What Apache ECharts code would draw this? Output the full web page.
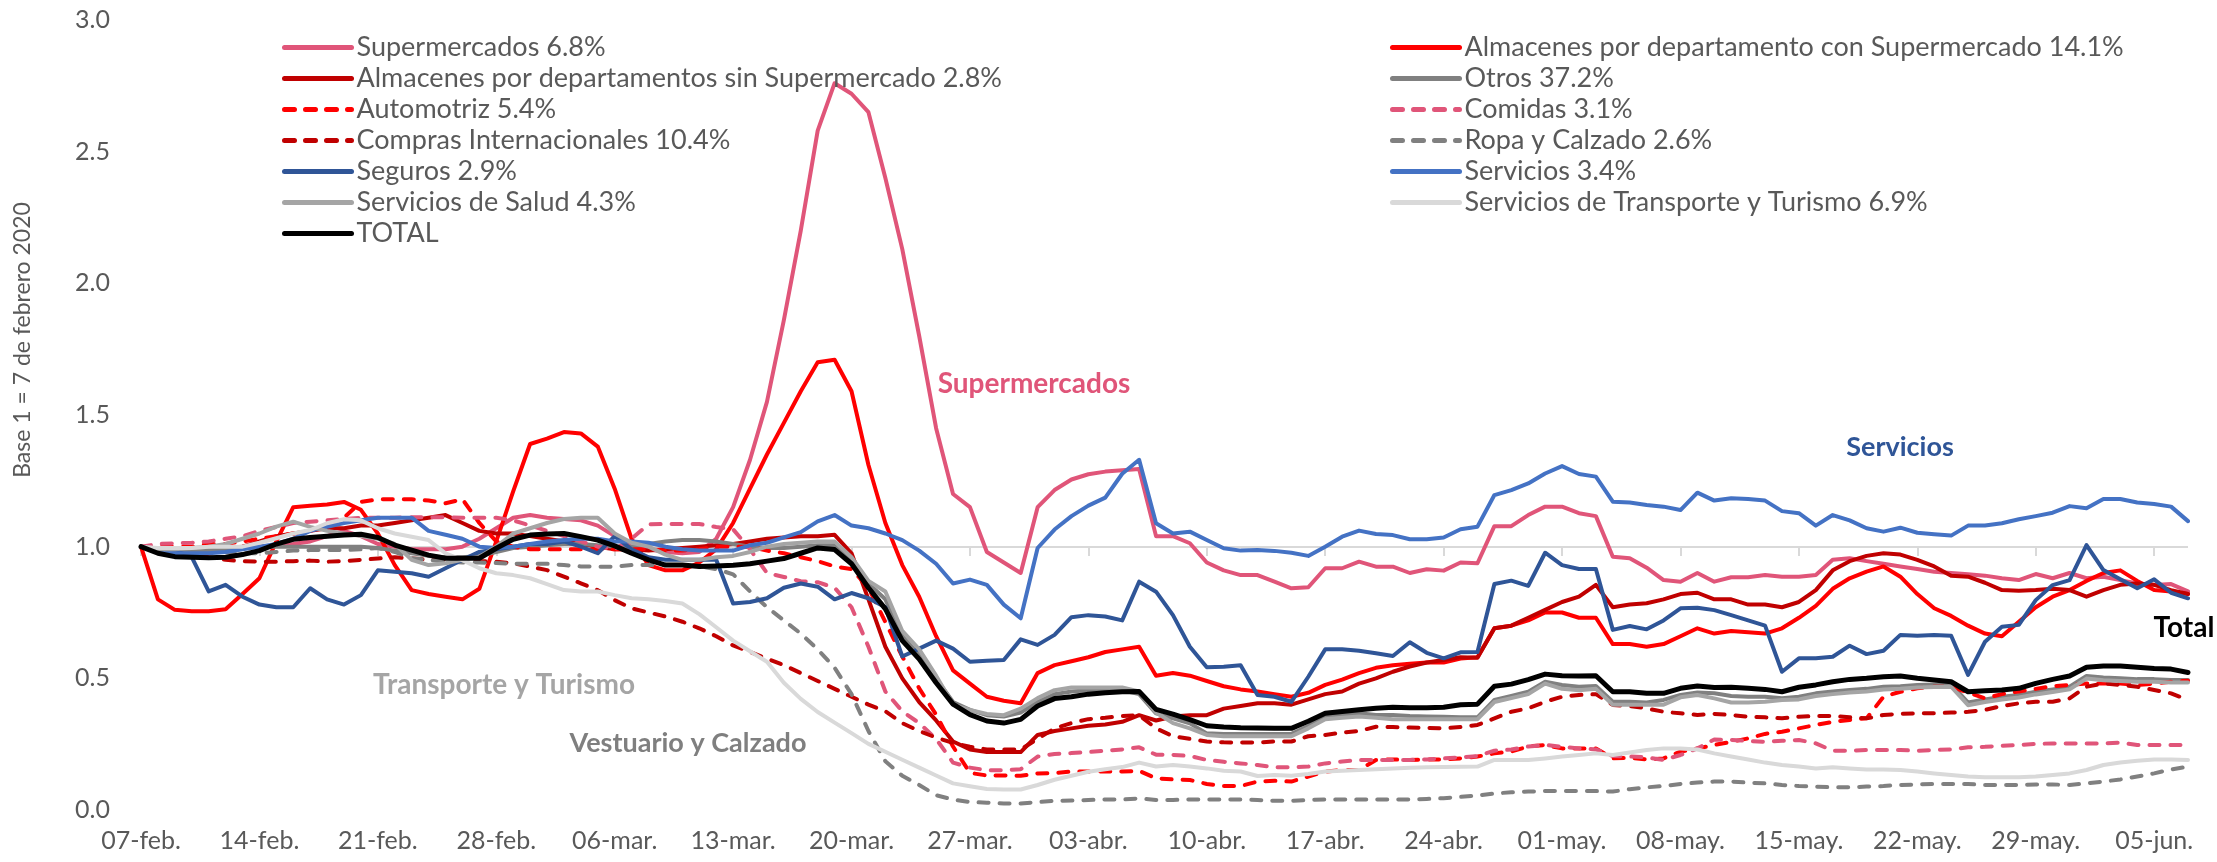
<!DOCTYPE html>
<html>
<head>
<meta charset="utf-8">
<script src="https://cdn.jsdelivr.net/npm/echarts@6/dist/echarts.min.js"></script>
<style>
  html, body { margin: 0; padding: 0; background: #fff; }
  #chart { width: 2217px; height: 862px; }
</style>
</head>
<body>
<div id="chart"></div>
<script>
// fechas diarias, 07-feb a 07-jun 2020
const fechas = [
  '07-feb.','08-feb.','09-feb.','10-feb.','11-feb.','12-feb.','13-feb.','14-feb.','15-feb.','16-feb.',
  '17-feb.','18-feb.','19-feb.','20-feb.','21-feb.','22-feb.','23-feb.','24-feb.','25-feb.','26-feb.',
  '27-feb.','28-feb.','29-feb.','01-mar.','02-mar.','03-mar.','04-mar.','05-mar.','06-mar.','07-mar.',
  '08-mar.','09-mar.','10-mar.','11-mar.','12-mar.','13-mar.','14-mar.','15-mar.','16-mar.','17-mar.',
  '18-mar.','19-mar.','20-mar.','21-mar.','22-mar.','23-mar.','24-mar.','25-mar.','26-mar.','27-mar.',
  '28-mar.','29-mar.','30-mar.','31-mar.','01-abr.','02-abr.','03-abr.','04-abr.','05-abr.','06-abr.',
  '07-abr.','08-abr.','09-abr.','10-abr.','11-abr.','12-abr.','13-abr.','14-abr.','15-abr.','16-abr.',
  '17-abr.','18-abr.','19-abr.','20-abr.','21-abr.','22-abr.','23-abr.','24-abr.','25-abr.','26-abr.',
  '27-abr.','28-abr.','29-abr.','30-abr.','01-may.','02-may.','03-may.','04-may.','05-may.','06-may.',
  '07-may.','08-may.','09-may.','10-may.','11-may.','12-may.','13-may.','14-may.','15-may.','16-may.',
  '17-may.','18-may.','19-may.','20-may.','21-may.','22-may.','23-may.','24-may.','25-may.','26-may.',
  '27-may.','28-may.','29-may.','30-may.','31-may.','01-jun.','02-jun.','03-jun.','04-jun.','05-jun.',
  '06-jun.','07-jun.'
];

const supermercados = [
  1.0, 0.985, 0.985, 0.985, 0.99, 0.995, 1.0, 1.0, 1.005, 1.01,
  1.02, 1.04, 1.06, 1.04, 1.01, 1.0, 0.99, 0.99, 0.99, 1.0,
  1.03, 1.07, 1.11, 1.12, 1.11, 1.105, 1.10, 1.08, 1.04, 1.0,
  0.99, 0.98, 0.975, 0.98, 1.03, 1.15, 1.33, 1.55, 1.86, 2.2,
  2.58, 2.76, 2.72, 2.65, 2.4, 2.13, 1.8, 1.45, 1.2, 1.15,
  0.98, 0.94, 0.9, 1.15, 1.215, 1.255, 1.275, 1.285, 1.29, 1.295,
  1.04, 1.04, 1.013, 0.94, 0.91, 0.892, 0.892, 0.867, 0.842, 0.846,
  0.918, 0.918, 0.943, 0.924, 0.924, 0.90, 0.914, 0.909, 0.94, 0.937,
  1.078, 1.078, 1.12, 1.152, 1.152, 1.127, 1.116, 0.962, 0.956, 0.92,
  0.873, 0.867, 0.90, 0.867, 0.884, 0.884, 0.892, 0.886, 0.886, 0.892,
  0.95, 0.956, 0.945, 0.935, 0.925, 0.915, 0.905, 0.90, 0.895, 0.89,
  0.88, 0.873, 0.896, 0.88, 0.90, 0.88, 0.886, 0.873, 0.86, 0.854,
  0.858, 0.83
];

const almacenesCon = [
  1.0, 0.80, 0.76, 0.755, 0.755, 0.762, 0.82, 0.88, 1.02, 1.15,
  1.155, 1.16, 1.17, 1.14, 1.05, 0.93, 0.835, 0.82, 0.81, 0.80,
  0.84, 1.02, 1.21, 1.39, 1.41, 1.435, 1.43, 1.38, 1.22, 1.03,
  0.93, 0.91, 0.91, 0.94, 0.99, 1.09, 1.22, 1.35, 1.47, 1.59,
  1.70, 1.71, 1.59, 1.31, 1.09, 0.93, 0.81, 0.66, 0.53, 0.48,
  0.43, 0.415, 0.405, 0.52, 0.55, 0.565, 0.58, 0.60, 0.61, 0.62,
  0.51, 0.52, 0.51, 0.49, 0.47, 0.458, 0.45, 0.44, 0.43, 0.445,
  0.475, 0.495, 0.52, 0.54, 0.55, 0.555, 0.56, 0.56, 0.575, 0.58,
  0.69, 0.70, 0.72, 0.75, 0.75, 0.73, 0.73, 0.63, 0.63, 0.62,
  0.63, 0.66, 0.69, 0.67, 0.68, 0.675, 0.67, 0.69, 0.73, 0.775,
  0.84, 0.88, 0.905, 0.925, 0.886, 0.82, 0.766, 0.737, 0.70, 0.67,
  0.66, 0.715, 0.77, 0.81, 0.835, 0.87, 0.90, 0.91, 0.87, 0.835,
  0.83, 0.82
];

const almacenesSin = [
  1.0, 0.98, 0.97, 0.97, 0.98, 0.99, 1.0, 1.02, 1.04, 1.05,
  1.06, 1.07, 1.07, 1.08, 1.08, 1.09, 1.10, 1.11, 1.12, 1.09,
  1.06, 1.05, 1.05, 1.04, 1.03, 1.02, 1.01, 1.0, 0.99, 0.99,
  0.985, 0.99, 0.995, 1.0, 1.005, 1.01, 1.02, 1.03, 1.035, 1.04,
  1.04, 1.045, 0.975, 0.80, 0.62, 0.50, 0.41, 0.34, 0.26, 0.23,
  0.22, 0.22, 0.22, 0.285, 0.30, 0.31, 0.32, 0.325, 0.335, 0.36,
  0.34, 0.355, 0.36, 0.36, 0.385, 0.395, 0.405, 0.405, 0.40, 0.42,
  0.44, 0.45, 0.48, 0.50, 0.525, 0.545, 0.56, 0.57, 0.58, 0.578,
  0.69, 0.70, 0.73, 0.76, 0.79, 0.81, 0.855, 0.77, 0.78, 0.785,
  0.80, 0.82, 0.825, 0.80, 0.80, 0.78, 0.78, 0.77, 0.79, 0.835,
  0.91, 0.945, 0.965, 0.975, 0.97, 0.95, 0.925, 0.89, 0.886, 0.863,
  0.835, 0.833, 0.835, 0.84, 0.835, 0.81, 0.835, 0.855, 0.86, 0.855,
  0.835, 0.82
];

const otros = [
  1.0, 0.99, 0.985, 0.985, 0.985, 0.99, 0.995, 1.0, 1.0, 1.0,
  1.0, 1.0, 1.0, 1.0, 0.995, 0.985, 0.975, 0.965, 0.96, 0.96,
  0.965, 0.98, 0.995, 1.0, 1.005, 1.01, 1.01, 1.005, 1.0, 1.0,
  1.01, 1.02, 1.025, 1.025, 1.02, 1.01, 1.0, 0.995, 0.995, 1.0,
  1.005, 1.005, 0.95, 0.86, 0.80, 0.66, 0.59, 0.50, 0.41, 0.38,
  0.36, 0.355, 0.37, 0.41, 0.44, 0.45, 0.455, 0.455, 0.455, 0.44,
  0.367, 0.348, 0.329, 0.291, 0.289, 0.289, 0.289, 0.289, 0.289, 0.319,
  0.354, 0.361, 0.367, 0.361, 0.361, 0.357, 0.355, 0.354, 0.352, 0.352,
  0.418, 0.433, 0.449, 0.487, 0.475, 0.468, 0.471, 0.411, 0.411, 0.408,
  0.418, 0.437, 0.446, 0.443, 0.433, 0.43, 0.43, 0.424, 0.43, 0.443,
  0.45, 0.456, 0.46, 0.468, 0.47, 0.475, 0.477, 0.478, 0.408, 0.42,
  0.43, 0.437, 0.449, 0.458, 0.468, 0.509, 0.503, 0.50, 0.497, 0.497,
  0.494, 0.494
];

const automotriz = [
  1.0, 1.0, 1.0, 1.0, 1.01, 1.01, 1.02, 1.03, 1.04, 1.05,
  1.06, 1.08, 1.11, 1.17, 1.18, 1.18, 1.18, 1.175, 1.165, 1.18,
  1.09, 1.02, 1.0, 0.99, 0.99, 0.99, 0.99, 0.99, 0.99, 0.99,
  0.99, 0.985, 0.985, 0.99, 1.0, 1.0, 1.0, 0.985, 0.975, 0.96,
  0.945, 0.925, 0.915, 0.844, 0.714, 0.583, 0.462, 0.362, 0.241, 0.141,
  0.131, 0.131, 0.13, 0.139, 0.14, 0.146, 0.146, 0.146, 0.146, 0.149,
  0.12, 0.116, 0.114, 0.099, 0.091, 0.091, 0.108, 0.111, 0.108, 0.127,
  0.146, 0.152, 0.152, 0.19, 0.192, 0.19, 0.192, 0.192, 0.196, 0.203,
  0.215, 0.222, 0.241, 0.247, 0.234, 0.234, 0.234, 0.196, 0.198, 0.192,
  0.196, 0.222, 0.234, 0.247, 0.259, 0.272, 0.289, 0.297, 0.31, 0.323,
  0.335, 0.342, 0.348, 0.43, 0.449, 0.462, 0.468, 0.468, 0.446, 0.424,
  0.44, 0.45, 0.46, 0.47, 0.475, 0.48, 0.481, 0.48, 0.475, 0.48,
  0.487, 0.491
];

const comidas = [
  1.0, 1.01, 1.013, 1.015, 1.02, 1.03, 1.04, 1.06, 1.075, 1.09,
  1.095, 1.10, 1.105, 1.11, 1.11, 1.11, 1.112, 1.112, 1.112, 1.11,
  1.11, 1.11, 1.10, 1.08, 1.06, 1.04, 1.02, 1.0, 0.99, 1.03,
  1.085, 1.086, 1.086, 1.086, 1.075, 1.066, 0.99, 0.90, 0.885, 0.869,
  0.865, 0.844, 0.77, 0.62, 0.45, 0.375, 0.33, 0.27, 0.18, 0.161,
  0.151, 0.151, 0.155, 0.203, 0.213, 0.216, 0.22, 0.225, 0.23, 0.238,
  0.21, 0.209, 0.205, 0.19, 0.183, 0.177, 0.171, 0.162, 0.162, 0.165,
  0.177, 0.184, 0.19, 0.19, 0.19, 0.19, 0.192, 0.196, 0.20, 0.205,
  0.225, 0.23, 0.241, 0.247, 0.24, 0.234, 0.23, 0.205, 0.203, 0.2,
  0.19, 0.209, 0.234, 0.268, 0.266, 0.262, 0.259, 0.263, 0.266, 0.253,
  0.225, 0.225, 0.228, 0.228, 0.228, 0.225, 0.228, 0.23, 0.238, 0.24,
  0.244, 0.247, 0.251, 0.253, 0.253, 0.253, 0.253, 0.256, 0.247, 0.247,
  0.247, 0.247
];

const comprasInt = [
  1.0, 0.99, 0.98, 0.975, 0.96, 0.95, 0.945, 0.943, 0.943, 0.945,
  0.947, 0.943, 0.945, 0.95, 0.955, 0.96, 0.955, 0.95, 0.95, 0.948,
  0.945, 0.943, 0.937, 0.924, 0.911, 0.886, 0.861, 0.835, 0.797, 0.766,
  0.75, 0.735, 0.715, 0.69, 0.66, 0.625, 0.6, 0.575, 0.55, 0.52,
  0.49, 0.46, 0.43, 0.40, 0.375, 0.33, 0.30, 0.275, 0.255, 0.24,
  0.23, 0.23, 0.23, 0.27, 0.31, 0.33, 0.345, 0.35, 0.357, 0.36,
  0.31, 0.28, 0.27, 0.26, 0.257, 0.256, 0.256, 0.26, 0.26, 0.28,
  0.285, 0.294, 0.30, 0.316, 0.315, 0.313, 0.312, 0.31, 0.315, 0.323,
  0.348, 0.373, 0.386, 0.411, 0.43, 0.437, 0.44, 0.399, 0.395, 0.386,
  0.373, 0.367, 0.361, 0.365, 0.361, 0.354, 0.352, 0.348, 0.354, 0.357,
  0.357, 0.352, 0.348, 0.361, 0.365, 0.367, 0.367, 0.37, 0.373, 0.38,
  0.395, 0.405, 0.411, 0.411, 0.424, 0.468, 0.481, 0.475, 0.468, 0.456,
  0.443, 0.418
];

const ropaCalzado = [
  1.0, 0.99, 0.99, 0.985, 0.985, 0.98, 0.975, 0.975, 0.98, 0.985,
  0.987, 0.987, 0.987, 0.99, 0.995, 0.98, 0.956, 0.95, 0.943, 0.94,
  0.94, 0.938, 0.935, 0.935, 0.935, 0.93, 0.925, 0.924, 0.924, 0.93,
  0.93, 0.93, 0.93, 0.925, 0.915, 0.895, 0.83, 0.77, 0.72, 0.67,
  0.61, 0.54, 0.44, 0.30, 0.185, 0.13, 0.095, 0.056, 0.04, 0.03,
  0.028, 0.025, 0.025, 0.03, 0.035, 0.036, 0.038, 0.04, 0.04, 0.044,
  0.038, 0.038, 0.04, 0.04, 0.04, 0.04, 0.038, 0.035, 0.035, 0.038,
  0.04, 0.04, 0.04, 0.04, 0.04, 0.04, 0.042, 0.045, 0.05, 0.055,
  0.063, 0.067, 0.07, 0.072, 0.072, 0.072, 0.072, 0.07, 0.079, 0.086,
  0.091, 0.099, 0.104, 0.108, 0.108, 0.104, 0.101, 0.095, 0.091, 0.089,
  0.086, 0.086, 0.089, 0.091, 0.095, 0.097, 0.099, 0.099, 0.099, 0.095,
  0.095, 0.095, 0.097, 0.097, 0.095, 0.101, 0.108, 0.116, 0.127, 0.139,
  0.154, 0.165
];

const seguros = [
  1.0, 0.99, 0.985, 0.96, 0.83, 0.855, 0.81, 0.78, 0.77, 0.77,
  0.842, 0.80, 0.78, 0.816, 0.91, 0.905, 0.899, 0.886, 0.918, 0.95,
  0.98, 0.99, 1.0, 1.01, 1.01, 1.02, 1.0, 0.975, 1.04, 0.99,
  0.96, 0.95, 0.95, 0.95, 0.95, 0.784, 0.79, 0.804, 0.844, 0.86,
  0.848, 0.80, 0.824, 0.804, 0.77, 0.583, 0.613, 0.643, 0.613, 0.563,
  0.567, 0.57, 0.648, 0.627, 0.665, 0.732, 0.74, 0.735, 0.72, 0.867,
  0.829, 0.74, 0.62, 0.542, 0.544, 0.55, 0.437, 0.43, 0.411, 0.506,
  0.61, 0.61, 0.605, 0.595, 0.585, 0.637, 0.597, 0.576, 0.599, 0.60,
  0.858, 0.871, 0.851, 0.977, 0.93, 0.915, 0.915, 0.684, 0.699, 0.686,
  0.72, 0.766, 0.768, 0.759, 0.74, 0.72, 0.70, 0.525, 0.576, 0.576,
  0.582, 0.624, 0.592, 0.605, 0.665, 0.662, 0.665, 0.662, 0.513, 0.639,
  0.696, 0.703, 0.797, 0.854, 0.873, 1.006, 0.911, 0.876, 0.842, 0.876,
  0.825, 0.804
];

const servicios = [
  1.0, 0.98, 0.975, 0.975, 0.975, 0.98, 0.99, 1.0, 1.01, 1.03,
  1.06, 1.075, 1.09, 1.10, 1.11, 1.11, 1.11, 1.06, 1.045, 1.03,
  1.0, 0.995, 1.0, 1.01, 1.02, 1.025, 1.03, 1.03, 1.02, 1.02,
  1.015, 1.0, 0.99, 0.985, 0.985, 0.985, 1.005, 1.015, 1.035, 1.055,
  1.096, 1.12, 1.08, 1.07, 1.05, 1.025, 0.985, 0.935, 0.86, 0.875,
  0.855, 0.78, 0.728, 0.995, 1.065, 1.116, 1.156, 1.186, 1.277, 1.33,
  1.089, 1.05, 1.057, 1.025, 0.994, 0.985, 0.987, 0.984, 0.977, 0.965,
  1.0, 1.038, 1.061, 1.048, 1.044, 1.028, 1.028, 1.035, 1.066, 1.076,
  1.196, 1.215, 1.24, 1.278, 1.306, 1.276, 1.266, 1.171, 1.168, 1.158,
  1.152, 1.139, 1.205, 1.175, 1.184, 1.181, 1.175, 1.135, 1.127, 1.08,
  1.12, 1.10, 1.07, 1.057, 1.072, 1.053, 1.047, 1.042, 1.08, 1.08,
  1.089, 1.104, 1.116, 1.129, 1.154, 1.146, 1.181, 1.181, 1.168, 1.162,
  1.152, 1.097
];

const salud = [
  1.0, 0.99, 0.99, 0.995, 1.0, 1.01, 1.03, 1.05, 1.076, 1.095,
  1.075, 1.06, 1.05, 1.04, 1.03, 1.01, 0.95, 0.93, 0.937, 0.95,
  0.962, 1.0, 1.05, 1.07, 1.09, 1.105, 1.11, 1.11, 1.05, 1.015,
  1.0, 0.97, 0.95, 0.95, 0.96, 0.965, 0.98, 1.0, 1.01, 1.015,
  1.02, 1.02, 0.96, 0.87, 0.83, 0.68, 0.61, 0.51, 0.40, 0.38,
  0.365, 0.36, 0.385, 0.425, 0.455, 0.465, 0.465, 0.465, 0.465, 0.45,
  0.37, 0.33, 0.31, 0.285, 0.28, 0.28, 0.28, 0.28, 0.28, 0.31,
  0.345, 0.35, 0.355, 0.35, 0.345, 0.345, 0.345, 0.345, 0.345, 0.345,
  0.41, 0.425, 0.44, 0.48, 0.46, 0.455, 0.46, 0.40, 0.40, 0.40,
  0.40, 0.428, 0.437, 0.424, 0.408, 0.408, 0.411, 0.418, 0.42, 0.433,
  0.44, 0.446, 0.45, 0.458, 0.46, 0.465, 0.467, 0.468, 0.398, 0.41,
  0.42, 0.427, 0.439, 0.448, 0.458, 0.499, 0.493, 0.49, 0.487, 0.487,
  0.484, 0.484
];

const transporte = [
  1.0, 0.995, 0.995, 0.995, 1.0, 1.0, 1.0, 1.015, 1.032, 1.05,
  1.063, 1.089, 1.104, 1.10, 1.07, 1.05, 1.038, 1.025, 0.975, 0.949,
  0.918, 0.899, 0.892, 0.88, 0.858, 0.835, 0.83, 0.83, 0.816, 0.804,
  0.80, 0.794, 0.784, 0.744, 0.694, 0.643, 0.603, 0.563, 0.483, 0.422,
  0.372, 0.332, 0.292, 0.251, 0.221, 0.191, 0.161, 0.131, 0.101, 0.09,
  0.08, 0.078, 0.078, 0.095, 0.115, 0.13, 0.145, 0.155, 0.163, 0.18,
  0.165, 0.171, 0.165, 0.158, 0.149, 0.146, 0.129, 0.133, 0.13, 0.137,
  0.146, 0.149, 0.152, 0.155, 0.158, 0.16, 0.162, 0.163, 0.164, 0.165,
  0.19, 0.19, 0.19, 0.196, 0.203, 0.209, 0.215, 0.209, 0.218, 0.228,
  0.234, 0.234, 0.23, 0.215, 0.203, 0.192, 0.18, 0.171, 0.165, 0.158,
  0.162, 0.158, 0.154, 0.154, 0.152, 0.146, 0.139, 0.133, 0.127, 0.124,
  0.124, 0.124, 0.127, 0.133, 0.139, 0.152, 0.171, 0.18, 0.187, 0.192,
  0.192, 0.19
];

const total = [
  1.0, 0.975, 0.962, 0.96, 0.958, 0.96, 0.97, 0.985, 1.01, 1.028,
  1.035, 1.04, 1.044, 1.047, 1.035, 1.006, 0.987, 0.968, 0.956, 0.956,
  0.956, 0.994, 1.028, 1.044, 1.048, 1.05, 1.038, 1.025, 1.003, 0.975,
  0.95, 0.93, 0.93, 0.925, 0.927, 0.929, 0.935, 0.945, 0.955, 0.975,
  0.995, 0.989, 0.935, 0.844, 0.764, 0.643, 0.573, 0.483, 0.402, 0.362,
  0.338, 0.33, 0.344, 0.395, 0.423, 0.43, 0.44, 0.445, 0.449, 0.45,
  0.382, 0.364, 0.343, 0.32, 0.315, 0.312, 0.311, 0.31, 0.31, 0.337,
  0.367, 0.374, 0.381, 0.386, 0.39, 0.388, 0.388, 0.39, 0.40, 0.402,
  0.47, 0.478, 0.495, 0.516, 0.51, 0.509, 0.51, 0.449, 0.449, 0.443,
  0.443, 0.462, 0.471, 0.465, 0.466, 0.462, 0.458, 0.449, 0.466, 0.475,
  0.487, 0.496, 0.50, 0.506, 0.509, 0.50, 0.494, 0.487, 0.449, 0.453,
  0.456, 0.462, 0.481, 0.496, 0.509, 0.542, 0.547, 0.547, 0.542, 0.537,
  0.535, 0.522
];

// eje y
const yMin = 0, yMax = 3, yInterval = 0.5;

const FONT = 'Lato, "Open Sans", sans-serif';
const GRIS_TXT = '#595959';
const ROSA = '#E05579';

function linea(nombre, datos, color, punteada, ancho) {
  return {
    name: nombre,
    type: 'line',
    data: datos,
    symbol: 'none',
    smooth: false,
    lineStyle: {
      color: color,
      width: ancho || 4,
      type: punteada ? [10, 11] : 'solid',
      cap: 'round',
      join: 'round'
    },
    itemStyle: { color: color }
  };
}

const series = [
  linea('Supermercados 6.8%', supermercados, ROSA, false),
  linea('Almacenes por departamento con Supermercado 14.1%', almacenesCon, '#FF0000', false),
  linea('Almacenes por departamentos sin Supermercado 2.8%', almacenesSin, '#C00000', false),
  linea('Otros 37.2%', otros, '#808080', false),
  linea('Automotriz 5.4%', automotriz, '#FF0000', true),
  linea('Comidas 3.1%', comidas, ROSA, true),
  linea('Compras Internacionales 10.4%', comprasInt, '#C00000', true),
  linea('Ropa y Calzado 2.6%', ropaCalzado, '#808080', true),
  linea('Seguros 2.9%', seguros, '#2F5597', false),
  linea('Servicios 3.4%', servicios, '#4472C4', false),
  linea('Servicios de Salud 4.3%', salud, '#A5A5A5', false),
  linea('Servicios de Transporte y Turismo 6.9%', transporte, '#D9D9D9', false),
  linea('TOTAL', total, '#000000', false, 5)
];

const leyendaComun = {
  orient: 'vertical',
  top: 27,
  itemWidth: 67,
  itemHeight: 14,
  itemGap: 0,
  itemStyle: { opacity: 0 },
  lineStyle: { width: 5 },
  textStyle: { fontFamily: FONT, fontSize: 27, color: GRIS_TXT, lineHeight: 31 },
  selectedMode: false
};

const chart = echarts.init(document.getElementById('chart'));
chart.setOption({
  animation: false,
  backgroundColor: '#ffffff',
  grid: { left: 141, right: 29, top: 20, bottom: 52, containLabel: false },
  legend: [
    Object.assign({}, leyendaComun, {
      left: 277,
      data: ['Supermercados 6.8%', 'Almacenes por departamentos sin Supermercado 2.8%',
        'Automotriz 5.4%', 'Compras Internacionales 10.4%', 'Seguros 2.9%',
        'Servicios de Salud 4.3%', 'TOTAL']
    }),
    Object.assign({}, leyendaComun, {
      left: 1385,
      data: ['Almacenes por departamento con Supermercado 14.1%', 'Otros 37.2%',
        'Comidas 3.1%', 'Ropa y Calzado 2.6%', 'Servicios 3.4%',
        'Servicios de Transporte y Turismo 6.9%']
    })
  ],
  xAxis: [
    {
      type: 'category',
      data: fechas,
      boundaryGap: false,
      axisLine: { show: false },
      axisTick: { show: false },
      axisLabel: {
        interval: (i) => i % 7 === 0,
        margin: 18,
        fontFamily: FONT,
        fontSize: 25,
        color: GRIS_TXT
      },
      splitLine: { show: false }
    },
    {
      // marcas sobre la linea base 1
      type: 'category',
      data: fechas,
      boundaryGap: false,
      position: 'bottom',
      offset: -263,
      axisLine: { show: false },
      axisLabel: { show: false },
      axisTick: { show: true, interval: 6, length: 9, lineStyle: { color: '#D9D9D9', width: 2 } },
      splitLine: { show: false }
    }
  ],
  yAxis: {
    type: 'value',
    min: yMin,
    max: yMax,
    interval: yInterval,
    axisLine: { show: false },
    axisTick: { show: false },
    axisLabel: {
      margin: 31,
      fontFamily: FONT,
      fontSize: 25,
      color: GRIS_TXT,
      formatter: v => v.toFixed(1)
    },
    splitLine: {
      show: true,
      lineStyle: {
        width: 2,
        color: ['rgba(0,0,0,0)', 'rgba(0,0,0,0)', '#D9D9D9', 'rgba(0,0,0,0)',
          'rgba(0,0,0,0)', 'rgba(0,0,0,0)', 'rgba(0,0,0,0)']
      }
    }
  },
  graphic: [
    { type: 'text', x: 23, y: 340, rotation: Math.PI / 2,
      style: { text: 'Base 1 = 7 de febrero 2020', align: 'center', verticalAlign: 'middle',
        font: '23px ' + FONT, fill: GRIS_TXT } },
    { type: 'text', x: 1034, y: 384,
      style: { text: 'Supermercados', align: 'center', verticalAlign: 'middle',
        font: 'bold 28px ' + FONT, fill: ROSA } },
    { type: 'text', x: 1900, y: 447,
      style: { text: 'Servicios', align: 'center', verticalAlign: 'middle',
        font: 'bold 27px ' + FONT, fill: '#2F5597' } },
    { type: 'text', x: 2184, y: 628,
      style: { text: 'Total', align: 'center', verticalAlign: 'middle',
        font: 'bold 28px ' + FONT, fill: '#000000' } },
    { type: 'text', x: 504, y: 685,
      style: { text: 'Transporte y Turismo', align: 'center', verticalAlign: 'middle',
        font: 'bold 28px ' + FONT, fill: '#A5A5A5' } },
    { type: 'text', x: 688, y: 743,
      style: { text: 'Vestuario y Calzado', align: 'center', verticalAlign: 'middle',
        font: 'bold 27px ' + FONT, fill: '#7F7F7F' } }
  ],
  series: series
});
</script>
</body>
</html>
